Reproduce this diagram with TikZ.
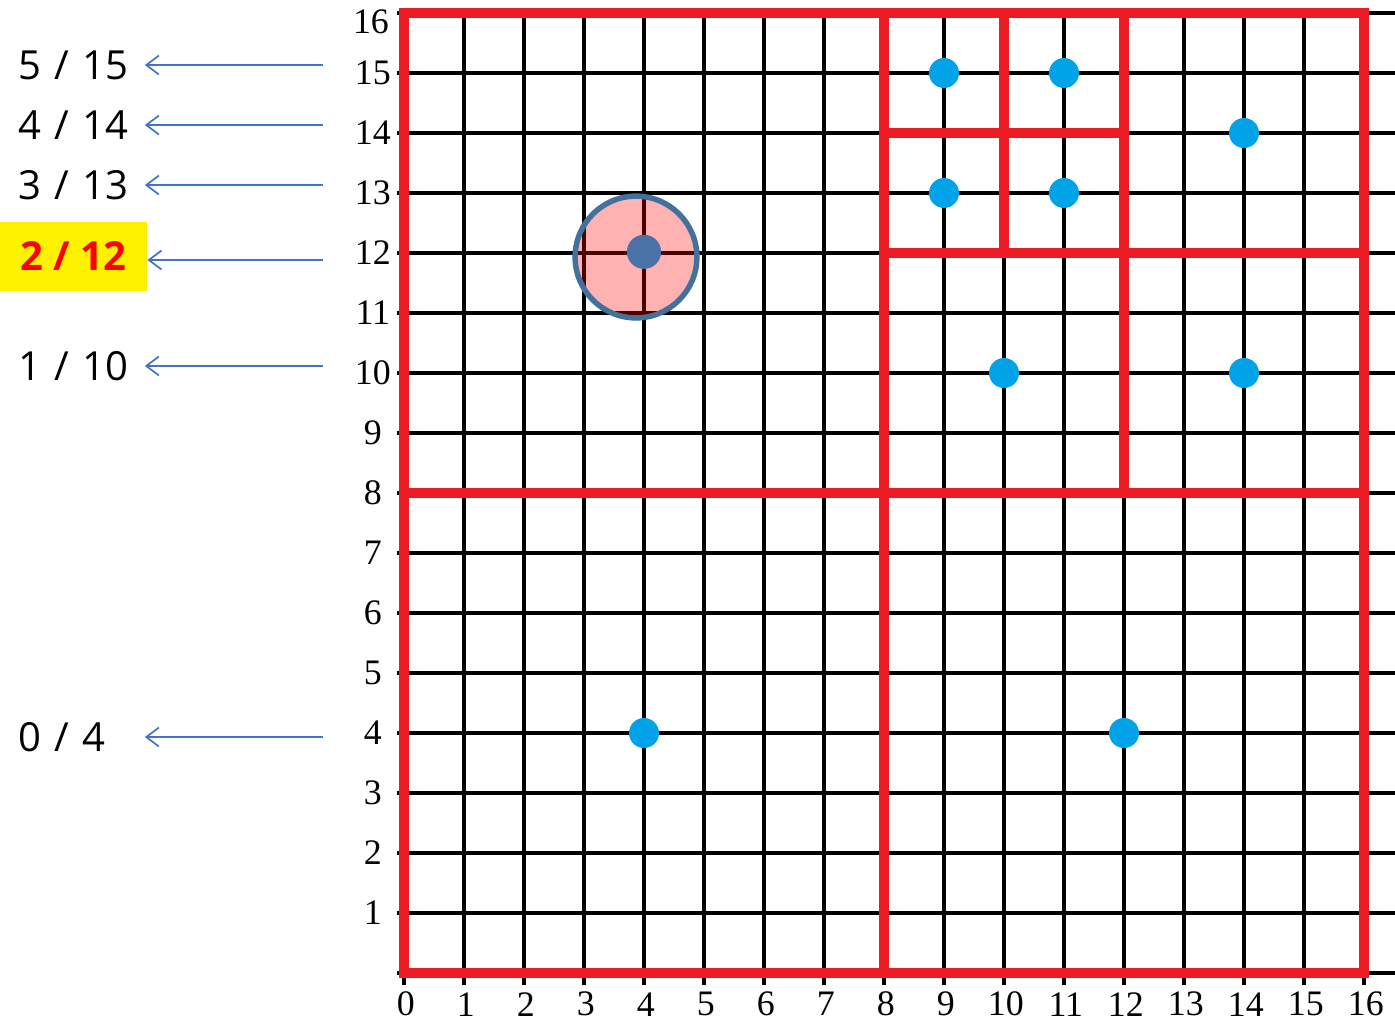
\documentclass[tikz,border=0pt]{standalone}
\usepackage{fontspec}
\setmainfont{Liberation Serif}
\newfontfamily\labelfont{Open Sans}
\usetikzlibrary{arrows.meta}
\definecolor{boxred}{RGB}{237,28,36}
\definecolor{ptblue}{RGB}{0,162,232}
\definecolor{arrblue}{RGB}{68,114,196}
\definecolor{ringblue}{RGB}{65,113,156}
\definecolor{hitblue}{RGB}{74,114,166}

\begin{document}
\begin{tikzpicture}[x=1cm,y=1cm,
  gline/.style={black,line width=1.7pt},
  redbox/.style={boxred,line width=5pt,line join=miter},
  bdot/.style={circle,fill=ptblue,inner sep=0pt,minimum size=0.5cm},
  lvl/.style={font=\labelfont\fontsize{19}{22}\selectfont,text width=2.1cm,inner sep=0pt,anchor=west,align=left},
  arr/.style={arrblue,line width=0.8pt,-{Straight Barb[length=6pt,width=9pt]}},
  num/.style={font=\fontsize{17}{18}\selectfont,inner sep=0pt}]
\useasboundingbox (-6.733,-0.933) rectangle (16.517,16.217);
% grid
\foreach \x in {0,...,16} {
   \draw[gline] (\x,-0.2) -- (\x,16);
   \node[num] (xl\x) at (\x+0.03,-0.52) {\x};
}
\foreach \y in {0,...,16} {
   \draw[gline] (-0.12,\y) -- (16.517,\y);
}
\foreach \y in {1,...,15} {
   \node[num] (yl\y) at (-0.52,\y) {\y};
}
\node[num] (yl16) at (-0.55,15.86) {16};
% quadtree cells
\draw[redbox] (0,0) rectangle (16,16);
\draw[redbox] (0,8) -- (16,8) (8,0) -- (8,16);
\draw[redbox] (12,8) -- (12,16) (8,12) -- (16,12);
\draw[redbox] (10,12) -- (10,16) (8,14) -- (12,14);
% points
\foreach \n/\x/\y in {p1/9/15,p2/11/15,p3/14/14,p4/9/13,p5/11/13,p6/10/10,p7/14/10,p8/4/4,p9/12/4} {
   \node[bdot] (\n) at (\x,\y) {};
}
% query point
\node[circle,draw=ringblue,line width=2.6pt,fill=red,fill opacity=0.3,draw opacity=1,minimum size=2.03cm,inner sep=0pt] (ring) at (3.867,11.933) {};
\node[circle,fill=hitblue,inner sep=0pt,minimum size=0.57cm] (hit) at (4,12.02) {};
% levels
\foreach \n/\t/\y in {l5/{5 / 15}/15.133,l4/{4 / 14}/14.133,l3/{3 / 13}/13.133,l1/{1 / 10}/10.117,l0/{0 / 4}/3.933} {
   \node[lvl] (\n) at (-6.433,\y) {\t};
   \coordinate (a\n) at (-1.35,\y);
   \draw[arr] (a\n) -- (\n);
}
\node[fill=yellow,minimum width=2.45cm,minimum height=1.15cm,inner sep=0pt,text=red,font=\labelfont\bfseries\fontsize{19}{22}\selectfont] (l2) at (-5.508,11.95) {2 / 12};
\coordinate (al2) at (-1.35,11.883);
\draw[arr] (al2) -- (al2 -| l2.east);
\end{tikzpicture}
\end{document}
